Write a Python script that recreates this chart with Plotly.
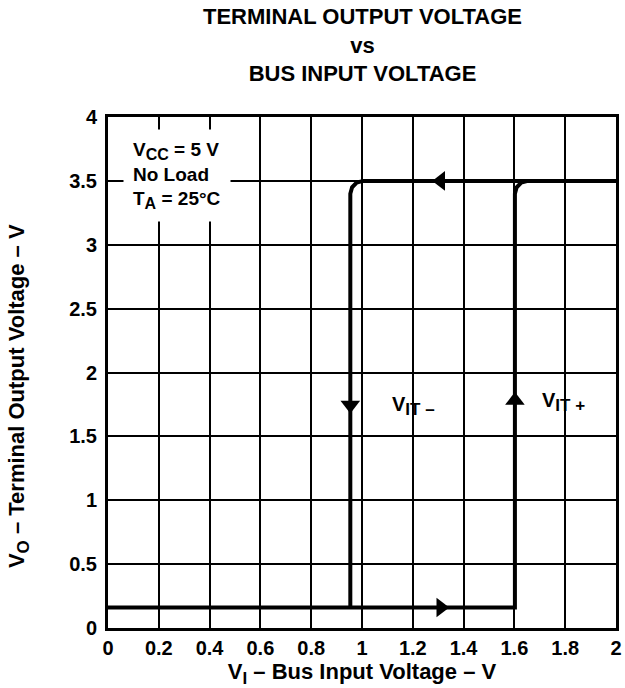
import plotly.graph_objects as go

# Hysteresis path
low_x = [0.0, 1.602, 1.602, 1.609, 1.627, 1.653, 2.0]
low_y = [0.16, 0.16, 3.40, 3.45, 3.487, 3.50, 3.50]
high_x = [2.0, 1.005, 0.979, 0.961, 0.954, 0.954]
high_y = [3.50, 3.50, 3.487, 3.45, 3.40, 0.16]

# Arrow positions
arrow_x = [1.31, 1.31, 0.954, 1.602]
arrow_y = [3.50, 0.16, 1.745, 1.78]
arrow_sym = ["triangle-left", "triangle-right", "triangle-down", "triangle-up"]

x_ticks = [0, 0.2, 0.4, 0.6, 0.8, 1.0, 1.2, 1.4, 1.6, 1.8, 2.0]
x_tick_text = ["0", "0.2", "0.4", "0.6", "0.8", "1", "1.2", "1.4", "1.6", "1.8", "2"]
y_ticks = [0, 0.5, 1.0, 1.5, 2.0, 2.5, 3.0, 3.5, 4.0]
y_tick_text = ["0", "0.5", "1", "1.5", "2", "2.5", "3", "3.5", "4"]

FONT = "Liberation Sans, Arial, sans-serif"

fig = go.Figure()
line_style = dict(color="black", width=4)
fig.add_trace(go.Scatter(x=low_x, y=low_y, mode="lines", line=line_style, hoverinfo="skip"))
fig.add_trace(go.Scatter(x=high_x, y=high_y, mode="lines", line=line_style, hoverinfo="skip"))
fig.add_trace(go.Scatter(x=arrow_x, y=arrow_y, mode="markers",
                         marker=dict(symbol=arrow_sym, size=17, color="black", line=dict(width=0)),
                         hoverinfo="skip"))

lab_font = dict(family=FONT, size=20, color="black", weight="bold")
fig.add_annotation(x=1.11, y=1.74, xref="x", yref="y", xanchor="left", yanchor="middle",
                   text='V<sub><span style="font-size:17px">IT –</span></sub>',
                   showarrow=False, font=lab_font)
fig.add_annotation(x=1.70, y=1.77, xref="x", yref="y", xanchor="left", yanchor="middle",
                   text='V<sub><span style="font-size:17px">IT +</span></sub>',
                   showarrow=False, font=lab_font)

fig.add_annotation(x=0.06, y=3.91, xref="x", yref="y", xanchor="left", yanchor="top",
                   text='V<sub><span style="font-size:16px">CC</span></sub> = 5 V<br>No Load<br>'
                        'T<sub><span style="font-size:16px">A</span></sub> = 25°C',
                   align="left", showarrow=False, bgcolor="white", borderpad=9,
                   font=dict(family=FONT, size=19, color="black", weight="bold"))

fig.add_annotation(x=0.5, y=1.0, xref="paper", yref="paper", xanchor="center", yanchor="bottom",
                   yshift=29, showarrow=False,
                   text="TERMINAL OUTPUT VOLTAGE<br>vs<br>BUS INPUT VOLTAGE",
                   font=dict(family=FONT, size=22, color="black", weight="bold"))

tick_font = dict(family=FONT, size=20, color="black", weight="bold")
title_font = dict(family=FONT, size=22, color="black", weight="bold")

# y-axis title as rotated annotation (reference places it slightly below centre)
fig.add_annotation(x=-0.177, y=0.454, xref="paper", yref="paper", xanchor="center", yanchor="middle",
                   textangle=-90, showarrow=False,
                   text='V<sub><span style="font-size:17px">O</span></sub> – Terminal Output Voltage – V',
                   font=title_font)

fig.update_xaxes(range=[0, 2], tickvals=x_ticks, ticktext=x_tick_text,
                 showgrid=True, gridcolor="black", gridwidth=1.5,
                 showline=True, linecolor="black", linewidth=3, mirror=True,
                 zeroline=False, ticks="", tickfont=tick_font,
                 title=dict(text='V<sub><span style="font-size:17px">I</span></sub> – Bus Input Voltage – V',
                            font=title_font, standoff=2))
fig.update_yaxes(range=[0, 4], tickvals=y_ticks, ticktext=y_tick_text,
                 showgrid=True, gridcolor="black", gridwidth=1.5,
                 showline=True, linecolor="black", linewidth=3, mirror=True,
                 zeroline=False, ticks="", tickfont=tick_font, ticklabelstandoff=4)

fig.update_layout(width=625, height=688, showlegend=False,
                  paper_bgcolor="white", plot_bgcolor="white",
                  margin=dict(l=108, r=3, t=117, b=60),
                  font=dict(family=FONT, color="black"))

fig.write_html("out.html", config={"displayModeBar": False},
               post_script="document.body.style.margin='0';document.body.style.overflow='hidden';")
